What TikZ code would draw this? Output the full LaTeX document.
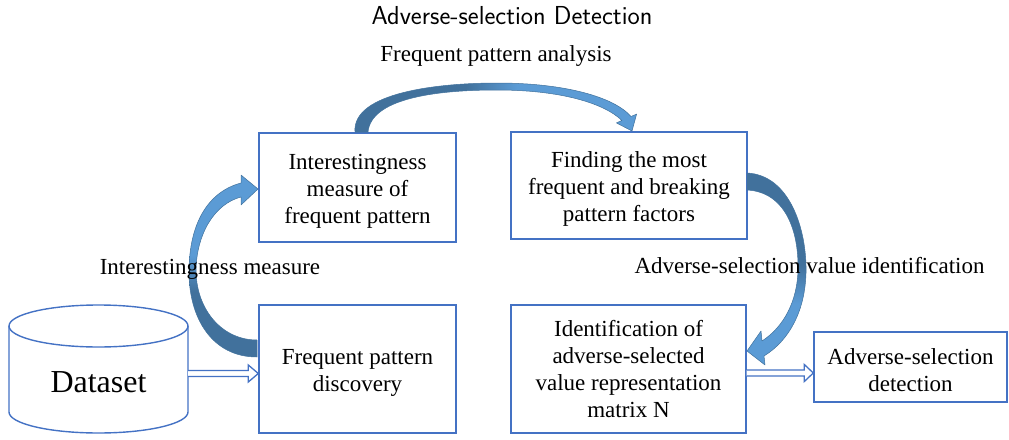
\documentclass[tikz,border=0pt]{standalone}
\usepackage{fontspec}
\setmainfont{Liberation Serif}
\usetikzlibrary{arrows.meta,calc}

\definecolor{boxblue}{HTML}{4472C4}
\definecolor{arrdark}{HTML}{41719C}
\definecolor{arrlight}{HTML}{5B9BD5}

% two-tone fills for the curved block arrows (dark back, light front)
\pgfdeclareverticalshading{bendup}{100bp}{color(0bp)=(arrdark); color(43bp)=(arrdark); color(53bp)=(arrlight); color(100bp)=(arrlight)}
\pgfdeclareverticalshading{benddown}{100bp}{color(0bp)=(arrlight); color(41bp)=(arrlight); color(51bp)=(arrdark); color(100bp)=(arrdark)}
\pgfdeclarehorizontalshading{bendright}{100bp}{color(0bp)=(arrdark); color(45bp)=(arrdark); color(54bp)=(arrlight); color(100bp)=(arrlight)}

% taller first line, so box texts sit slightly below the box centre
\newcommand{\firststrut}{\rule{0pt}{22pt}}

\begin{document}
\begin{tikzpicture}[x=1pt,y=-1pt,
  boxline/.style={draw=boxblue, line width=1.4pt},
  box/.style={boxline, align=center, inner sep=0pt, font=\fontsize{23}{27}\selectfont},
  lbl/.style={anchor=base, inner sep=0pt, font=\fontsize{23}{27}\selectfont},
  hollowarrow/.style={draw=boxblue, line width=1.3pt, fill=white, line join=miter},
  blockbend/.style={draw=arrdark, line width=0.5pt, line join=round}]

\useasboundingbox (0,0) rectangle (1009,439);

% process boxes
\node[box, minimum width=197pt, minimum height=109pt] (imf) at (357.5,187.5) {\firststrut Interestingness\\measure of\\frequent pattern};
\node[box, minimum width=236pt, minimum height=107pt] (fmf) at (629,185.5) {\firststrut Finding the most\\frequent and breaking\\pattern factors};
\node[box, minimum width=197pt, minimum height=128pt] (fpd) at (357.5,369) {\firststrut Frequent pattern\\discovery};
\node[box, minimum width=235pt, minimum height=128pt] (idm) at (628.5,369) {Identification of\\adverse-selected\\value representation\\matrix N};
\node[box, minimum width=193pt, minimum height=70pt] (asd) at (910.5,367) {\firststrut Adverse-selection\\detection};

% dataset cylinder
\draw[boxline] (98.5,326) ellipse[x radius=89.5, y radius=21];
\draw[boxline] (9,326) -- (9,412) arc[start angle=180, end angle=0, x radius=89.5, y radius=21] -- (188,326);
\node[minimum width=179pt, inner sep=0pt, font=\fontsize{32}{36}\selectfont] (ds) at (98.5,382) {Dataset};

% hollow block arrows
\coordinate (dsin) at ([yshift=-4.5pt]fpd.west);
\coordinate (dsout) at (dsin -| ds.east);
\draw[hollowarrow] ([yshift=3pt]dsout) -- ([xshift=-10pt,yshift=3pt]dsin)
  -- ([xshift=-10pt,yshift=8.5pt]dsin) -- (dsin)
  -- ([xshift=-10pt,yshift=-8.5pt]dsin) -- ([xshift=-10pt,yshift=-3pt]dsin)
  -- ([yshift=-3pt]dsout);
\coordinate (idout) at ([yshift=-4pt]idm.east);
\coordinate (asdin) at (idout -| asd.west);
\draw[hollowarrow] ([yshift=3pt]idout) -- ([xshift=-9pt,yshift=3pt]asdin)
  -- ([xshift=-9pt,yshift=8.5pt]asdin) -- (asdin)
  -- ([xshift=-9pt,yshift=-8.5pt]asdin) -- ([xshift=-9pt,yshift=-3pt]asdin)
  -- ([yshift=-3pt]idout);

% curved block arrows
\shadedraw[blockbend, shading=bendup]
  (257,357) .. controls (212,357) and (189,318) .. (189,272)
  .. controls (189,225) and (207,192) .. (241,183)
  -- (241,175) -- (258,189) -- (241,205) -- (241,197)
  .. controls (214,204) and (196,235) .. (196,272)
  .. controls (197,310) and (222,340) .. (257,340) -- cycle;

\shadedraw[blockbend, shading=bendright]
  (355,132) .. controls (352,92) and (440,83) .. (497,83)
  .. controls (565,83) and (614,97) .. (631,116.5)
  -- (636.6,114.1) -- (632,131) -- (616.4,122.9) -- (621.9,120.5)
  .. controls (604,103) and (560,90) .. (497,90)
  .. controls (430,90) and (371,100) .. (368,132) -- cycle;

\shadedraw[blockbend, shading=benddown]
  (747,173) .. controls (790,175) and (807,230) .. (806,273)
  .. controls (805,310) and (790,340) .. (764,356)
  -- (765,365) -- (747,351) -- (761,331) -- (762,341)
  .. controls (785,326) and (797,300) .. (798,271)
  .. controls (799,230) and (785,192) .. (747,190) -- cycle;

% title and flow labels, set over the arrows
\node[anchor=base, inner sep=0pt, font=\sffamily\fontsize{26}{30}\selectfont] (ttl) at (512,24) {Adverse-selection Detection};
\node[lbl] (fpa) at (496,61) {Frequent pattern analysis};
\node[lbl] (iml) at (210,274) {Interestingness measure};
\node[lbl] (avl) at (809.5,273) {Adverse-selection value identification};
\end{tikzpicture}
\end{document}
